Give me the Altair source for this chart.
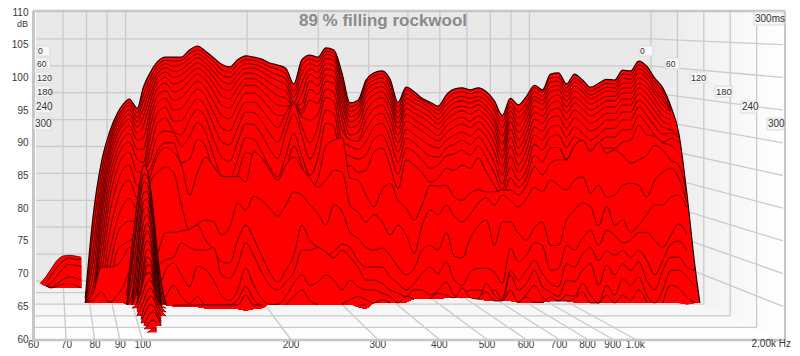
import altair as alt
import pandas as pd
import math

DB_TICKS = [60, 65, 70, 75, 80, 85, 90, 95, 100, 105, 110]
HZ_TICKS = [60, 70, 80, 90, 100, 200, 300, 400, 500, 600, 700, 800, 900, 1000, 2000]
TIMES = [0, 60, 120, 180, 240, 300]

# Apparent frequency of each contour knot, read on the front axis (Hz)
FREQS = [76.6, 79.5, 82.6, 85.7, 89.0, 91.5, 94.1, 97.7, 100.5, 103.9, 107.4, 111.5,
         115.7, 120.1, 124.7, 129.5, 134.4, 139.6, 144.9, 150.5, 156.2, 162.2, 168.4, 174.8, 181.5, 188.4, 195.6, 203.1,
         210.9, 218.9, 227.3, 236.0, 245.0, 254.4, 264.1, 274.2, 284.7, 295.5, 306.8, 318.6, 330.7,
         343.4, 356.5, 370.1, 384.3, 398.9, 414.2, 430.0, 446.4, 463.5, 481.2, 499.6, 518.7, 538.5,
         559.0, 580.4, 602.6, 625.6, 649.5, 674.3, 700.1, 726.8, 754.6, 783.4, 813.3, 844.4, 876.7,
         910.2, 945.0, 981.1, 1018.6, 1057.5, 1097.9, 1139.9, 1183.4, 1228.6, 1275.6, 1324.3, 1356.0]

BASE = [65.6, 65.5, 65.5, 65.5, 65.5, 65.5, 65.3, 65.3, 65.3, 65.3, 65.2, 65.2,
        65.0, 64.9, 64.9, 64.9, 64.7, 64.6, 64.6, 64.7, 64.6, 64.4, 64.6, 64.7, 65.3, 65.3, 65.2, 65.2,
        65.2, 65.3, 65.3, 65.3, 65.3, 65.3, 65.3, 64.9, 64.7, 65.5, 65.5, 65.5, 65.5,
        65.6, 66.1, 66.1, 66.1, 66.1, 66.3, 66.3, 66.3, 66.3, 66.1, 65.9, 65.8, 65.8,
        65.8, 65.6, 65.6, 65.6, 65.6, 65.8, 65.8, 65.8, 65.6, 65.6, 65.5, 65.5, 65.5,
        65.5, 65.5, 65.6, 65.6, 65.6, 65.5, 65.5, 65.5, 65.5, 65.3, 65.5, 65.5]

N = None
C00 = [66.2, 78.9, 87.0, 91.5, 94.5, 95.9, 96.7, 95.3, 98.5, 100.8, 102.4, 103.1,
       103.1, 103.1, 104.2, 104.8, 104.0, 103.0, 102.0, 101.6, 102.7, 103.3, 103.1, 102.8, 102.2, 101.9, 101.4, 99.0,
       102.7, 103.4, 103.1, 104.5, 104.2, 100.7, 96.1, 96.5, 99.6, 100.7, 101.0, 99.7, 96.2,
       98.5, 97.8, 96.8, 96.2, 95.6, 97.3, 98.2, 98.4, 98.1, 98.4, 97.8, 96.4, 94.2,
       96.8, 95.8, 97.1, 98.8, 98.1, 100.5, 100.7, 99.0, 100.5, 99.6, 98.5, 99.1, 99.7,
       99.6, 101.1, 101.0, 102.5, 101.7, 99.9, 98.4, 95.6, 91.5, 82.3, 71.3, 65.5]
C01 = [65.2, 76.5, 85.5, 90.5, 93.9, 95.3, 96.2, 94.6, 97.4, 100, 101.8, 102.6,
       102.5, 102.6, 103.6, 104.2, 103.5, 102.4, 101.2, 100.8, 102.0, 102.7, 102.6, 102.2, 101.6, 101.2, 100.6, 97.9,
       101.8, 102.8, 102.4, 104, 103.7, 99.8, 95.5, 96.0, 99.1, 100.2, 100.5, 99.0, 95.4,
       98.1, 97.3, 96.5, 95.9, 95, 96.5, 97.6, 97.8, 97.5, 97.8, 97.1, 95.6, 93.3,
       96.2, 94.7, 96.1, 98.4, 97.8, 99.9, 100, 98.4, 99.9, 99, 97.9, 98.5, 99.1,
       99, 100.5, 100.4, 101.9, 101.1, 99.3, 97.8, 95.4, N, N, N, N]
C02 = [65.2, 74, 84, 89.7, 93.3, 94.8, 95.7, 93.9, 96.3, 99.2, 101.2, 102.1,
       101.7, 102.0, 102.9, 103.6, 102.9, 101.7, 100.4, 100.0, 101.2, 102.1, 102.0, 101.6, 100.9, 100.4, 99.8, 97.0,
       100.6, 102.1, 101.7, 103.5, 103.2, 99, 94.8, 95.4, 98.5, 99.6, 99.9, 98.3, 94.6,
       97.5, 96.7, 96.1, 95.3, 94.4, 95.8, 96.8, 97.1, 96.8, 97.1, 96.4, 94.9, 92.3,
       95.6, 93.8, 95.3, 97.8, 97.1, 99.3, 99.4, 97.8, 99.3, 98.4, 97.3, 97.9, 98.5,
       98.4, 99.9, 99.7, 101.3, 100.5, 98.7, 97.1, 95.2, N, N, N, N]
C03 = [65.2, 72, 82.5, 89, 92.7, 94.2, 95.1, 93.2, 95.2, 98.4, 100.6, 101.5,
       100.9, 101.2, 102.2, 103, 102.2, 100.9, 99.5, 99.0, 100.4, 101.4, 101.4, 100.9, 100.1, 99.5, 98.9, 96.2,
       99.2, 101.3, 100.8, 102.9, 102.6, 98, 94, 94.6, 97.8, 99, 99.3, 97.5, 93.8,
       96.8, 96.1, 95.5, 94.7, 93.6, 95, 96.1, 96.4, 96.1, 96.5, 95.6, 93.9, 91,
       94.9, 92.7, 94.6, 97.1, 96.5, 98.5, 98.8, 97.1, 98.7, 97.8, 96.7, 97.3, 97.9,
       97.8, 99.1, 99.1, 100.7, 99.9, 98.1, 96.5, 95, N, N, N, N]
C04 = [65.2, 70, 81, 88.1, 91.9, 93.5, 94.4, 92.4, 94, 97.4, 100, 100.8,
       100, 100.4, 101.4, 102.2, 101.5, 100, 98.4, 98, 99.5, 100.7, 100.6, 100, 99.2, 98.4, 97.9, 95.5,
       97.5, 100.5, 99.8, 102.1, 101.8, 97, 93.2, 93.8, 97, 98.2, 98.6, 96.7, 93,
       96.1, 95.3, 94.7, 93.9, 92.9, 94.2, 95.3, 95.6, 95.3, 95.8, 94.9, 93.2, 89.8,
       94.1, 91.6, 93.6, 96.5, 95.9, 97.8, 98.1, 96.4, 97.9, 97, 95.9, 96.5, 97.1,
       97.1, 98.4, 98.4, 99.9, 99.1, 97.5, 95.8, 94.8, N, N, N, N]
C05 = [65.2, 68, 79.5, 87, 91.2, 92.8, 93.6, 91.5, 92.6, 96.4, 99.2, 100,
       99, 99.4, 100.5, 101.4, 100.6, 99, 97.2, 96.7, 98.4, 99.8, 99.8, 99.1, 98.1, 97.2, 96.8, 95.6,
       96, 99.5, 98.7, 101.3, 101, 96, 92.3, 92.8, 96, 97.4, 97.8, 95.8, 92.2,
       95.3, 94.5, 93.9, 93, 92.1, 93.5, 94.4, 94.9, 94.4, 95, 94.1, 92.3, 88.7,
       93.2, 90.4, 92.6, 95.6, 95, 96.8, 97.3, 95.5, 97, 96.1, 95, 95.6, 96.4,
       96.4, 97.6, 97.6, 99.1, 98.4, 96.7, 95, 94.3, N, N, N, N]
C06 = [65.2, 66.5, 78, 85.8, 90.1, 91.9, 92.6, 90.4, 90.8, 95.2, 98.3, 99.1,
       97.8, 98.2, 99.5, 100.5, 99.6, 97.8, 95.8, 95.3, 97.2, 98.8, 98.8, 98, 96.8, 95.8, 95.6, 95.8,
       95, 98.2, 97.4, 100.4, 100, 94.8, 91.2, 91.6, 94.8, 96.4, 96.9, 94.7, 91.2,
       94.4, 93.6, 92.8, 91.9, 91.1, 92.6, 93.5, 93.9, 93.3, 94.1, 93.2, 91.2, 87.7,
       92.1, 89.2, 91.5, 94.7, 94.1, 95.9, 96.4, 94.6, 96.1, 95.2, 94.1, 94.7, 95.5,
       95.5, 96.7, 96.7, 98.4, 97.5, 95.8, 94.1, 93.6, N, N, N, N]
C07 = [65.2, 65.2, 76, 84.4, 88.9, 90.7, 91.4, 89, 89, 94, 97.2, 98,
       96.5, 96.9, 98.3, 99.4, 98.4, 96.3, 94.2, 93.7, 95.8, 97.6, 97.6, 96.7, 95.3, 94.2, 94.2, 96,
       94.5, 96.5, 96, 99.4, 99, 93.5, 90, 90.3, 93.5, 95.2, 95.8, 93.5, 90,
       93.3, 92.6, 91.8, 90.9, 90.3, 91.5, 92.4, 92.9, 92.3, 93.2, 92.1, 90, 86.4,
       90.9, 88, 90.3, 93.6, 93, 94.9, 95.3, 93.5, 95, 94.1, 93, 93.6, 94.5,
       94.5, 95.8, 95.8, 97.5, 96.5, 94.9, 93.3, 92.8, N, N, N, N]
C08 = [65.2, 65.2, 74, 82.8, 87.7, 89.5, 90.1, 87.5, 87, 92.6, 96, 96.8,
       95, 95.3, 96.9, 98.2, 97.1, 94.6, 92.3, 91.8, 94.2, 96.2, 96.2, 95.1, 93.5, 92.3, 94.5, 96.2,
       94, 93.5, 94.4, 98.2, 97.7, 92, 90.5, 90.2, 92, 93.9, 94.5, 92.1, 88.6,
       92.1, 91.3, 90.4, 89.6, 89.2, 90.4, 91.2, 91.6, 91, 92.1, 90.9, 88.6, 85.1,
       89.5, 86.6, 88.9, 92.4, 91.8, 93.8, 94.1, 92.2, 93.8, 92.9, 91.8, 92.4, 93.5,
       93.5, 94.7, 94.7, 96.5, 95.5, 93.8, 92.4, 92, 91.2, N, N, N]
C09 = [65.2, 65.2, 72, 81, 86.1, 88, 88.6, 85.5, 85.8, 91, 94.6, 95.4,
       93.3, 93.4, 95.3, 96.7, 95.5, 92.7, 90.2, 89.7, 92.3, 94.7, 94.6, 93.3, 91.4, 90.1, 93, 96,
       92.5, 90, 92.6, 96.9, 96.3, 90.4, 89.5, 89, 90.2, 92.4, 93, 90.5, 87,
       90.7, 90, 88.9, 88, 87.8, 89.2, 89.8, 90.4, 89.7, 90.9, 89.3, 87, 83.7,
       88, 85.5, 87.4, 91.2, 90.4, 92.4, 92.7, 90.9, 92.4, 91.5, 90.4, 91.2, 92.2,
       92.2, 93.5, 93.5, 95.5, 94.2, 92.6, 91.3, 91.5, 90.8, N, N, N]
C10 = [65.2, 65.2, 70, 78.8, 83.8, 86, 86.6, 83.5, 84.6, 89.2, 93, 93.8,
       91.8, 91.2, 93.5, 95.1, 93.8, 90.5, 87.8, 87.2, 90.1, 92.9, 92.8, 91.2, 89, 87.6, 91.5, 94.4,
       91, 87.5, 90.3, 95, 94.5, 88.5, 88, 87.5, 88.2, 90.6, 91.2, 88.6, 85.2,
       89.2, 88.6, 87.4, 86.1, 86.6, 88, 88.3, 88.9, 88.1, 89.5, 87.7, 85.4, 82.8,
       86.3, 84.3, 85.8, 89.8, 88.9, 90.9, 91.2, 89.3, 90.9, 90.1, 88.9, 90, 90.9,
       90.9, 92, 92, 94.2, 92.9, 91.2, 90.1, 90.7, 90, N, N, N]
C11 = [65.2, 65.2, 67.5, 76, 81.2, 83.6, 84.3, 81.5, 85, 87.5, 91, 91.8,
       91.5, 89.5, 91, 93.1, 91.6, 88, 85, 84.5, 87.5, 90.8, 90.5, 88.6, 86.2, 84.8, 88, 91.4,
       88, 85, 87.6, 93, 92.5, 86.3, 86.5, 85.5, 85.8, 88.6, 89.2, 86.4, 83,
       87.4, 86.6, 85.4, 84, 84.6, 86.1, 85.8, 86.6, 86.1, 87.7, 85.5, 83.5, 82,
       84.6, 83.2, 84.6, 88.1, 87.1, 89.2, 89.3, 87.5, 89.2, 88.9, 87.4, 88.9, 89.2,
       89.2, 90.1, 90.4, 92.7, 91.2, 91, 90, 89.6, 88.5, N, N, N]
C12 = [65.2, 65.2, 65.5, 73, 78.2, 80.5, 81.5, 80, 84, 86, 88.8, 90,
       90, 87, 87.5, 90.5, 89.5, 85.3, 82.5, 82, 85, 88.5, 88, 85.6, 83, 81.5, 85.5, 89.5,
       86.5, 83, 84.5, 89.6, 90.4, 90.8, 84.6, 84.3, 82, 80.2, 82.8, 83.8, 81.2,
       80, 78.2, 80.5, 83.5, 83.4, 83.5, 81.7, 81.2, 82.3, 82.8, 82.5, 82.5, 82.8,
       82.8, 82, 83.5, 86.3, 85.1, 86.9, 87.4, 87.4, 89.6, 90.4, 88.6, 90.1, 88.4,
       88.9, 88.1, 86.9, 87.4, 88.1, 89.6, 88.9, 87.4, 86.6, 82, N, N]
C13 = [65.2, 65.2, 65.2, 70.5, 76, 77.5, 78, 78, 81, 85, 88, 89.3,
       88.6, 86.6, 82, 85.5, 87.8, 86.4, 84.9, 84.8, 84.9, 84, 88.6, 87.7, 85.8, 84.3, 86.6, 87.8,
       86.1, 84.6, 83.2, 84.3, 85.8, 85.5, 80.5, 79.4, 77.9, 79, 77.9, 75.9, 77.4,
       75.9, 73.1, 77.4, 79.7, 79, 80.5, 78.8, 77.9, 79.1, 80.8, 81.6, 80.5, 82,
       81.2, 80.2, 81.5, 83.2, 82.5, 84.3, 83.5, 82.8, 84.3, 84.8, 82.3, 83.5, 81.7,
       82, 83.5, 83.8, 83.5, 81.7, 84.3, 85.5, 86.1, 84.6, 81, N, N]
C14 = [65.2, 65.2, 65.2, 68, 73.6, 74.5, 75, 76, 80, 84, 85.5, 86.3,
       85.5, 80.5, 76.6, 77.6, 78.2, 77.9, 75.9, 77.1, 80.8, 79.7, 81.8, 81.2, 80, 78.8, 80.5, 82.5,
       82, 80.5, 79.2, 77.4, 80.5, 79.5, 76.3, 75.4, 74, 73.6, 73.9, 72.8, 71,
       69.8, 70.8, 73.6, 74.3, 73.6, 76.3, 72.7, 72.4, 75.4, 77.3, 78.2, 74.3, 77.9,
       77.9, 76.2, 75.1, 77, 77.9, 74.3, 74.3, 78.2, 79.7, 80.8, 80.2, 77.3, 80.3,
       77.4, 78.2, 76.3, 77.4, 79, 80.5, 80.5, 81.7, 82, 80, N, N]
C15 = [65.2, 67, 71, 71, 71.3, 72.5, 74, 72, 70, 70, 73, 76.3,
       76.3, 76.5, 76.8, 77.4, 75.1, 73.6, 71.8, 71.6, 75.1, 77.4, 75.4, 72.7, 70.2, 68.7, 70.5, 72.8,
       77.4, 75.1, 74, 72.8, 73.4, 74.5, 74, 72, 71, 71, 71, 69.5, 68.5,
       67.5, 68.5, 70, 71, 70, 71.8, 69, 68.2, 70.2, 70.8, 70.8, 70.2, 68.5,
       73.9, 71.8, 72.8, 74.7, 74.3, 70.5, 70.8, 74.3, 73.6, 75.4, 76.6, 74.3, 76.6,
       75.9, 74.7, 75.1, 76.3, 76.3, 75.1, 74, 75.9, 77.6, 76, N, N]
C16 = [65.2, 66, 67.2, 65.6, 66.7, 68, 70, 70, 68, 68, 71, 72.1,
       72.5, 74.7, 74, 73.6, 73.6, 74, 69.8, 69.3, 71.3, 74.7, 72.8, 70.2, 68.2, 67.5, 68.7, 70.2,
       73.6, 73.6, 74, 73.3, 72.4, 73.6, 72.5, 71, 69, 69, 68.5, 67.5, 67,
       66.5, 67.5, 67.5, 66.7, 67.5, 68.7, 66.7, 65.2, 67.5, 67.5, 67.2, 67.5, 66.2,
       70.5, 69, 70.5, 72, 70, 68.5, 68, 71.5, 71, 73, 74, 72, 73.5,
       72.8, 73.5, 72.5, 73.5, 72.1, 69.8, 72, 74.5, 75, 73.5, N, N]
C17 = [65.2, 65.2, 65.2, 65.2, 65.2, 65.2, 65.2, 65.2, 65.2, 65.2, 67, 70.5,
       71.6, 69.8, 68, 71.1, 70.6, 69, 66.6, 65.9, 67.5, 70.8, 68.2, 66.2, 65.2, 65.2, 66.5, 68.5,
       69.8, 68.2, 68.7, 69.8, 69, 67.5, 69, 68, 67.5, 67.5, 67, 66.5, 65.5,
       66.5, 65.9, 65.2, 65.2, 67, 66.7, 65.2, 67.8, 65.2, 65.2, 68.5, 66.7, 65.9,
       69.8, 67.5, 68.5, 70.5, 68, 67.2, 66.5, 69, 68.8, 70.5, 71.5, 68.2, 71.3,
       69.8, 71.5, 70.5, 71.8, 69, 67.5, 70.5, 72.5, 72.5, 71, 70.5, N]
C18 = [65.2, 65.2, 65.2, 65.2, 65.2, 65.2, 65.2, 65.2, 65.2, 65.2, 65.2, 66.5,
       68.2, 66.5, 65.4, 66.5, 65.2, 65.2, 65.2, 65.2, 66, 68, 66, 65.2, 65.2, 65.2, 65.2, 66.5,
       67.5, 65.9, 65.2, 65.2, 65.2, 65.2, 66, 66.5, 66, 65.5, 66, 65.5, 65.2,
       65.2, 65.2, 65.2, 65.2, 65.2, 65.2, 65.2, 65.2, 65.2, 65.2, 67.2, 65.5, 65.2,
       67.5, 65.2, 66.8, 68.2, 66.4, 65.8, 65.2, 66.7, 66.5, 68.5, 66.7, 65.2, 68.2,
       66.7, 69.2, 68.2, 69.5, 66.7, 65.2, 67.5, 70.5, 70.5, 69.5, 68, N]
C19 = [65.2, 65.2, 65.2, 65.2, 65.2, 65.2, 65.2, 65.2, 65.2, 65.2, 65.2, 65.2,
       65.2, 65.2, 65.2, 65.2, 65.2, 65.2, 65.2, 65.2, 65.2, 66.7, 65.2, 65.2, 65.2, 65.2, 65.2, 65.2,
       65.2, 65.2, 65.2, 65.2, 65.2, 65.2, 65.2, 65.2, 65.2, 65.2, 65.2, 65.2, 65.2,
       65.2, 65.2, 65.2, 65.2, 65.2, 65.2, 65.2, 65.2, 65.2, 65.2, 65.2, 65.2, 65.2,
       65.2, 65.2, 66.4, 65.2, 65.2, 66.4, 65.2, 65.2, 66.2, 67.2, 65.2, 65.2, 66.7,
       65.2, 66.7, 65.9, 67.5, 65.2, 65.2, 65.2, 68.2, 67.8, 66.4, 65.2, 65.5]
CONTOURS = [C00, C01, C02, C03, C04, C05, C06, C07, C08, C09, C10, C11, C12, C13, C14, C15, C16, C17, C18, C19]

# Low-frequency hump behind the main body
LOW_F = [62.0, 63.7, 65.4, 67.3, 69.1, 71.1, 73.1, 75.2]
LOW_BASE = [68.5, 68.1, 67.8, 67.8, 67.8, 67.8, 67.8, 67.8]
LOW0 = [68.5, 69.5, 70.8, 72.1, 72.7, 72.8, 72.7, 72.5]
LOW1 = [68.5, 68.5, 69.8, 71.1, 71.9, 72.4, 72.2, 72.2]
LOW2 = [68.5, 68.1, 68.6, 69.8, 70.8, 71.4, 71.3, 71.1]
LOW3 = [68.5, 68.1, 67.9, 68.5, 69.1, 69.5, 69.3, 69.0]
LOW4 = [68.5, 68.1, 67.8, 68.1, 68.4, 68.5, 68.2, 67.8]
LOWS = [LOW0, LOW1, LOW2, LOW3, LOW4]

# The ringing mode near 100 Hz, drawn in front of everything
SPIKE_F = [93.0, 95.2, 97.5, 99.4, 100.8, 102.3, 103.9, 105.5, 107.0, 109.3, 111.9]
SPIKES = [
    [66.7, 74, 80.5, 85.1, 86.6, 85.8, 83.2, 79.1, 74.3, 68.7, 65.2],
    [65.2, 72.1, 78.6, 83.5, 85.2, 84.9, 82.6, 78.5, 73.7, 68.2, 65.2],
    [65.2, 70.8, 77.4, 82.3, 84, 83.7, 81.4, 77.3, 72.5, 67, 65.2],
    [65.2, 68.7, 75.1, 80.5, 82.5, 82.5, 80.5, 77, 72.1, 65.9, 65.2],
    [65.2, 66.7, 72.8, 78.8, 81.1, 81.4, 79.7, 76.6, 72.1, 65.9, 65.2],
    [N, 65.5, 71.6, 77.6, 79.9, 80.2, 78.5, 75.4, 70.8, 65.2, N],
    [N, 65.2, 69.5, 75.6, 78.2, 79, 77.6, 74.8, 70.5, 65.2, N],
    [N, 65.2, 67.8, 73.4, 76.5, 77.7, 76.5, 73.9, 70.1, 65.2, N],
    [N, N, 66.6, 72.2, 75.3, 76.5, 75.3, 72.7, 68.8, 65.2, N],
    [N, N, 65.2, 70.2, 73.6, 75.1, 74.3, 71.7, 67.9, 65.2, N],
    [N, N, 65.2, 68.2, 71.7, 73.7, 73.4, 71.1, 67, 65.2, N],
    [N, N, N, 66.7, 70.5, 72.5, 72.2, 69.8, 65.9, 65.2, N],
    [N, N, N, 65.5, 68.8, 71.3, 71.3, 68.8, 65.5, N, N],
    [N, 64.7, 65.5, 67.2, 69.2, 70.1, 70.1, 68.2, 66.4, 65.2, 64.7],
    [N, N, 64.7, 66.1, 67.5, 68.7, 69, 67.9, 66.2, 64.9, 64.1],
    [N, N, 63.5, 64.9, 65.9, 67.2, 67.8, 67, 65.6, 64.3, 63.5],
    [N, N, N, 63, 64.7, 65.8, 66.6, 66.1, 64.9, 63.5, N],
    [N, N, N, 62.4, 63.6, 64.6, 65.3, 65, 64.1, 62.7, N],
    [N, N, N, N, 62.1, 63.2, 64, 64.1, 63.5, 62.1, N],
    [N, N, N, N, 61.5, 62, 62.7, 62.9, 62.4, N, N],
    [N, N, N, N, N, 61, 61.3, 61.8, 61.3, N, N],
]
SPIKE_BASE = [65.2, 65.2, 65.2, 65.2, 65.2, 65.2, 65.2, 65.2, 65.2, 65.2, 65.2, 65.2, 65.5,
              64.7, 64.1, 63.5, 63, 62.4, 62, 61.5, 61]

TITLE = "89 % filling rockwool"
LEFT_LABELS = ["0", "60", "120", "180", "240", "300"]
LEFT_X0 = [4, 3, 3, 3, 2, 1]
LEFT_X1 = [17, 17, 17, 17, 17, 18]
BOX_Y0 = [34, 46, 60, 74, 89, 106]
BOX_Y1 = [44, 57, 71, 85, 101, 118]
BOX_FONT = [8.5, 8.5, 9, 9.5, 10, 10]
RIGHT_X0 = [606, 632, 657, 682, 708, 734]
RIGHT_X1 = [620, 646, 673, 699, 724, 750]

W, H = 750, 327
F0, F1 = 60.0, 2000.0
PER_DEC = W / math.log10(F1 / F0)


def proj(freq, db, ms):
    d = ms / 300.0
    u = PER_DEC * math.log10(freq / F0)
    x = 3 * (1 - d) + (0.82 + 0.18 * d) * u
    y = (110 - db) * (5.38 + 1.16 * d)
    return F0 * 10 ** (x / PER_DEC), 110 - y / 6.54


XS = alt.Scale(type="log", domain=[F0, F1], nice=False)
YS = alt.Scale(domain=[60, 110], nice=False, zero=False)
XA = alt.Axis(values=HZ_TICKS, title=None, grid=False, domain=False, ticks=False, labelPadding=0, labelFlush=False,
              labelOverlap=False, labelFontSize=10, labelColor="#3a3a3a", labelFont="Liberation Sans",
              labelExpr="datum.value==1000?'1,0k':datum.value==2000?'':datum.value")
YA = alt.Axis(values=DB_TICKS, title=None, grid=False, domain=False, ticks=False, labelPadding=5, labelFlush=False,
              labelOverlap=False, labelFontSize=10, labelColor="#3a3a3a", labelFont="Liberation Sans")
X = alt.X("f:Q", scale=XS, axis=XA)
Y = alt.Y("db:Q", scale=YS, axis=YA)

segs = []
sid = 0


def seg(a, b):
    global sid
    segs.extend([dict(s=sid, f=a[0], db=a[1]), dict(s=sid, f=b[0], db=b[1])])
    sid += 1


for f in HZ_TICKS[1:-1]:
    seg(proj(f, 110, 0), proj(f, 60, 0))
    seg(proj(f, 60, 0), proj(f, 60, 300))
for t in TIMES[:-1]:
    seg(proj(F1, 110, t), proj(F1, 60, t))
for db in DB_TICKS[1:-1]:
    seg(proj(F0, db, 0), proj(F1, db, 0))
    seg(proj(F1, db, 0), proj(F1, db, 300))
for t in TIMES[:-1]:
    seg(proj(F0, 60, t), proj(F1, 60, t))

bc = proj(F1, 60, 0)
wall = pd.DataFrame([dict(f=proj(F0, 110, 0)[0], db=110, f2=proj(F1, 110, 0)[0], db2=bc[1])])
side = pd.DataFrame([dict(f=proj(F1, 110, 0)[0], db=110, f2=F1, db2=60)])
floor = pd.DataFrame([
    dict(f=proj(F0, 60, 0)[0], db=60, db2=bc[1]),
    dict(f=bc[0], db=60, db2=bc[1]),
    dict(f=F1, db=60, db2=60)])

layers = [
    alt.Chart(wall).mark_rect(color="#e9e9e9").encode(X, Y, x2="f2:Q", y2="db2:Q"),
    alt.Chart(side).mark_rect(color=alt.Gradient(
        gradient="linear", x1=0, x2=1, y1=0, y2=0,
        stops=[alt.GradientStop(color="#e9e9e9", offset=0), alt.GradientStop(color="#ffffff", offset=1)])
    ).encode(X, Y, x2="f2:Q", y2="db2:Q"),
    alt.Chart(floor).mark_area(color=alt.Gradient(
        gradient="linear", x1=0, x2=0, y1=0, y2=1,
        stops=[alt.GradientStop(color="#eeeeee", offset=0), alt.GradientStop(color="#ffffff", offset=1)])
    ).encode(X, Y, y2="db2:Q"),
    alt.Chart(pd.DataFrame(segs)).mark_line(color="#cacaca", strokeWidth=1.3).encode(X, Y, detail="s:N"),
]


def add_slice(freqs, vals, base, width=0.9, op=0.8):
    rows = []
    for i, (f, v) in enumerate(zip(freqs, vals)):
        if v is None:
            continue
        b = base[i] if isinstance(base, list) else base
        v = max(v, b)
        prev = vals[i - 1] if i > 0 and vals[i - 1] is not None else None
        nxt = vals[i + 1] if i + 1 < len(vals) and vals[i + 1] is not None else None
        up = v > b + 0.01 or (prev is not None and prev > b + 0.01) or (nxt is not None and nxt > b + 0.01)
        rows.append(dict(f=f, db=v, fl=b, ln=v if up else None))
    df = pd.DataFrame(rows)
    layers.append(alt.Chart(df).mark_area(color="#ff0000", interpolate="monotone").encode(X, Y, y2="fl:Q"))
    layers.append(alt.Chart(df).mark_line(color="#200000", strokeWidth=width, opacity=op, interpolate="monotone")
                  .encode(X, alt.Y("ln:Q", scale=YS, axis=YA)))


for v in LOWS:
    add_slice(LOW_F, v, LOW_BASE)
for i, v in enumerate(CONTOURS):
    add_slice(FREQS, v, BASE, width=1.2 if i == 0 else 0.9, op=1.0 if i == 0 else 0.8)
for v, b in zip(SPIKES, SPIKE_BASE):
    add_slice(SPIKE_F, v, b, width=1.0, op=0.85)


# frame
def rule(x=None, x2=None, y=None, y2=None, w=2.0, c="#c6c6c6"):
    return alt.Chart(pd.DataFrame([dict(a=1)])).mark_rule(color=c, strokeWidth=w).encode(
        x=alt.value(x), x2=alt.value(x2), y=alt.value(y), y2=alt.value(y2))


layers += [
    rule(x=0.5, x2=0.5, y=-1, y2=328, w=3),
    rule(x=0, x2=752, y=-1, y2=-1, w=2.5),
    rule(x=752, x2=752, y=-1, y2=328, w=2),
    rule(x=0, x2=752, y=328, y2=328, w=2.5),
]

rows = []
for lab, a0, a1, y0, y1, fs in zip(LEFT_LABELS, LEFT_X0, LEFT_X1, BOX_Y0, BOX_Y1, BOX_FONT):
    rows.append(dict(t=lab, x0=a0, x1=a1, y0=y0, y1=y1, fs=fs))
for lab, a0, a1, y0, y1, fs in zip(LEFT_LABELS, RIGHT_X0, RIGHT_X1, BOX_Y0, BOX_Y1, BOX_FONT):
    rows.append(dict(t=lab, x0=a0, x1=a1, y0=y0, y1=y1, fs=fs))
rows.append(dict(t="300ms", x0=721, x1=751, y0=0, y1=13, fs=10))
box = pd.DataFrame(rows)
box["tx"] = box.x0 + 1
box["ty"] = (box.y0 + box.y1) / 2
layers.append(alt.Chart(box).mark_rect(fill="#f7f7f7", stroke="#dcdcdc", strokeWidth=1).encode(
    x=alt.X("x0:Q", scale=None), x2="x1:Q", y=alt.Y("y0:Q", scale=None), y2="y1:Q"))
layers.append(alt.Chart(box).mark_text(align="left", baseline="middle", font="Liberation Sans", color="#333333").encode(
    x=alt.X("tx:Q", scale=None), y=alt.Y("ty:Q", scale=None), text="t:N",
    size=alt.Size("fs:Q", scale=None, legend=None)))
layers.append(alt.Chart(pd.DataFrame([dict(t=TITLE)])).mark_text(
    font="Liberation Sans", fontWeight="bold", fontSize=17, color="#8a8a8a", align="center", baseline="middle"
).encode(x=alt.value(350), y=alt.value(9), text="t:N"))
layers.append(alt.Chart(pd.DataFrame([dict(t="dB")])).mark_text(
    font="Liberation Sans", fontSize=9, color="#3a3a3a", align="right", baseline="middle"
).encode(x=alt.value(-5), y=alt.value(12), text="t:N"))
layers.append(alt.Chart(pd.DataFrame([dict(t="2,00k Hz")])).mark_text(
    font="Liberation Sans", fontSize=10, color="#3a3a3a", align="right", baseline="middle"
).encode(x=alt.value(758), y=alt.value(332), text="t:N"))

chart = alt.layer(*layers).properties(
    width=W, height=H, padding=dict(left=25, top=4, right=9, bottom=9),
    autosize=alt.AutoSizeParams(type="none")
).configure_view(stroke=None)
chart.save("out.html", embed_options={"renderer": "svg", "actions": False})
